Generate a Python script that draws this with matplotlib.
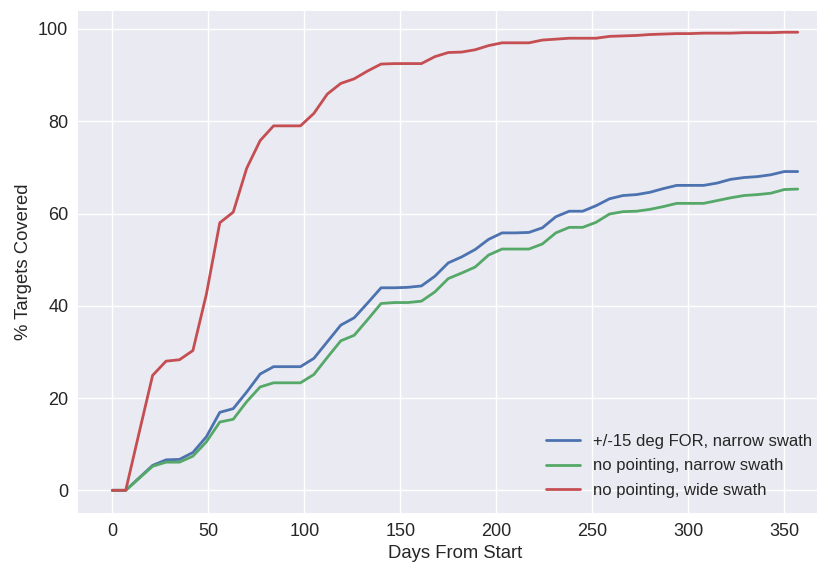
import matplotlib
matplotlib.use('Agg')
import matplotlib.pyplot as plt
import numpy as np

days = np.arange(0, 358, 7)

pointing_narrow = [0, 0, 2.7, 5.4, 6.6, 6.7, 8.2, 11.6, 16.9, 17.7,
                   21.3, 25.2, 26.8, 26.8, 26.8, 28.6, 32.2, 35.8, 37.4, 40.6,
                   43.9, 43.9, 44.0, 44.3, 46.4, 49.3, 50.6, 52.2, 54.4, 55.8,
                   55.8, 55.9, 56.9, 59.3, 60.5, 60.5, 61.7, 63.2, 63.9, 64.1,
                   64.6, 65.4, 66.1, 66.1, 66.1, 66.6, 67.4, 67.8, 68.0, 68.4,
                   69.1, 69.1]
nopoint_narrow = [0, 0, 2.6, 5.2, 6.1, 6.1, 7.4, 10.5, 14.8, 15.4,
                  19.2, 22.4, 23.3, 23.3, 23.3, 25.1, 28.8, 32.4, 33.6, 37.0,
                  40.5, 40.7, 40.7, 41.0, 43.0, 45.9, 47.1, 48.4, 51.0, 52.3,
                  52.3, 52.3, 53.4, 55.8, 57.0, 57.0, 58.1, 59.9, 60.4, 60.5,
                  60.9, 61.5, 62.2, 62.2, 62.2, 62.8, 63.4, 63.9, 64.1, 64.4,
                  65.2, 65.3]
nopoint_wide = [0, 0, 12.5, 24.9, 28.0, 28.3, 30.3, 42.5, 58.0, 60.3,
                69.8, 75.8, 79.0, 79.0, 79.0, 81.7, 85.9, 88.2, 89.2, 90.9,
                92.4, 92.5, 92.5, 92.5, 94.0, 94.9, 95.0, 95.5, 96.4, 97.0,
                97.0, 97.0, 97.6, 97.8, 98.0, 98.0, 98.0, 98.4, 98.5, 98.6,
                98.8, 98.9, 99.0, 99.0, 99.1, 99.1, 99.1, 99.2, 99.2, 99.2,
                99.3, 99.3]

labels = ['+/-15 deg FOR, narrow swath', 'no pointing, narrow swath',
          'no pointing, wide swath']

plt.style.use('seaborn-v0_8')
plt.rcParams['font.family'] = ['Liberation Sans', 'DejaVu Sans']

fig = plt.figure(figsize=(8.17, 5.67), dpi=100)
# axes run past the right edge, the original image was cropped there
ax = fig.add_axes([78 / 817, 54 / 567, 754 / 817, 502 / 567])

for vals, lab in zip([pointing_narrow, nopoint_narrow, nopoint_wide], labels):
    ax.plot(days, vals, linewidth=2, label=lab)

ax.set_xlim(-17.85, 374.85)
ax.set_ylim(-4.92, 103.9)
ax.set_xticks(np.arange(0, 351, 50))
ax.set_yticks(np.arange(0, 101, 20))
ax.tick_params(labelsize=13)
ax.set_xlabel('Days From Start', fontsize=13.3)
ax.set_ylabel('% Targets Covered', fontsize=13.3)
ax.legend(loc='lower right', fontsize=12, labelspacing=0.58,
          bbox_to_anchor=(0.9935, 0.0))

fig.savefig('out.png', dpi=100)
